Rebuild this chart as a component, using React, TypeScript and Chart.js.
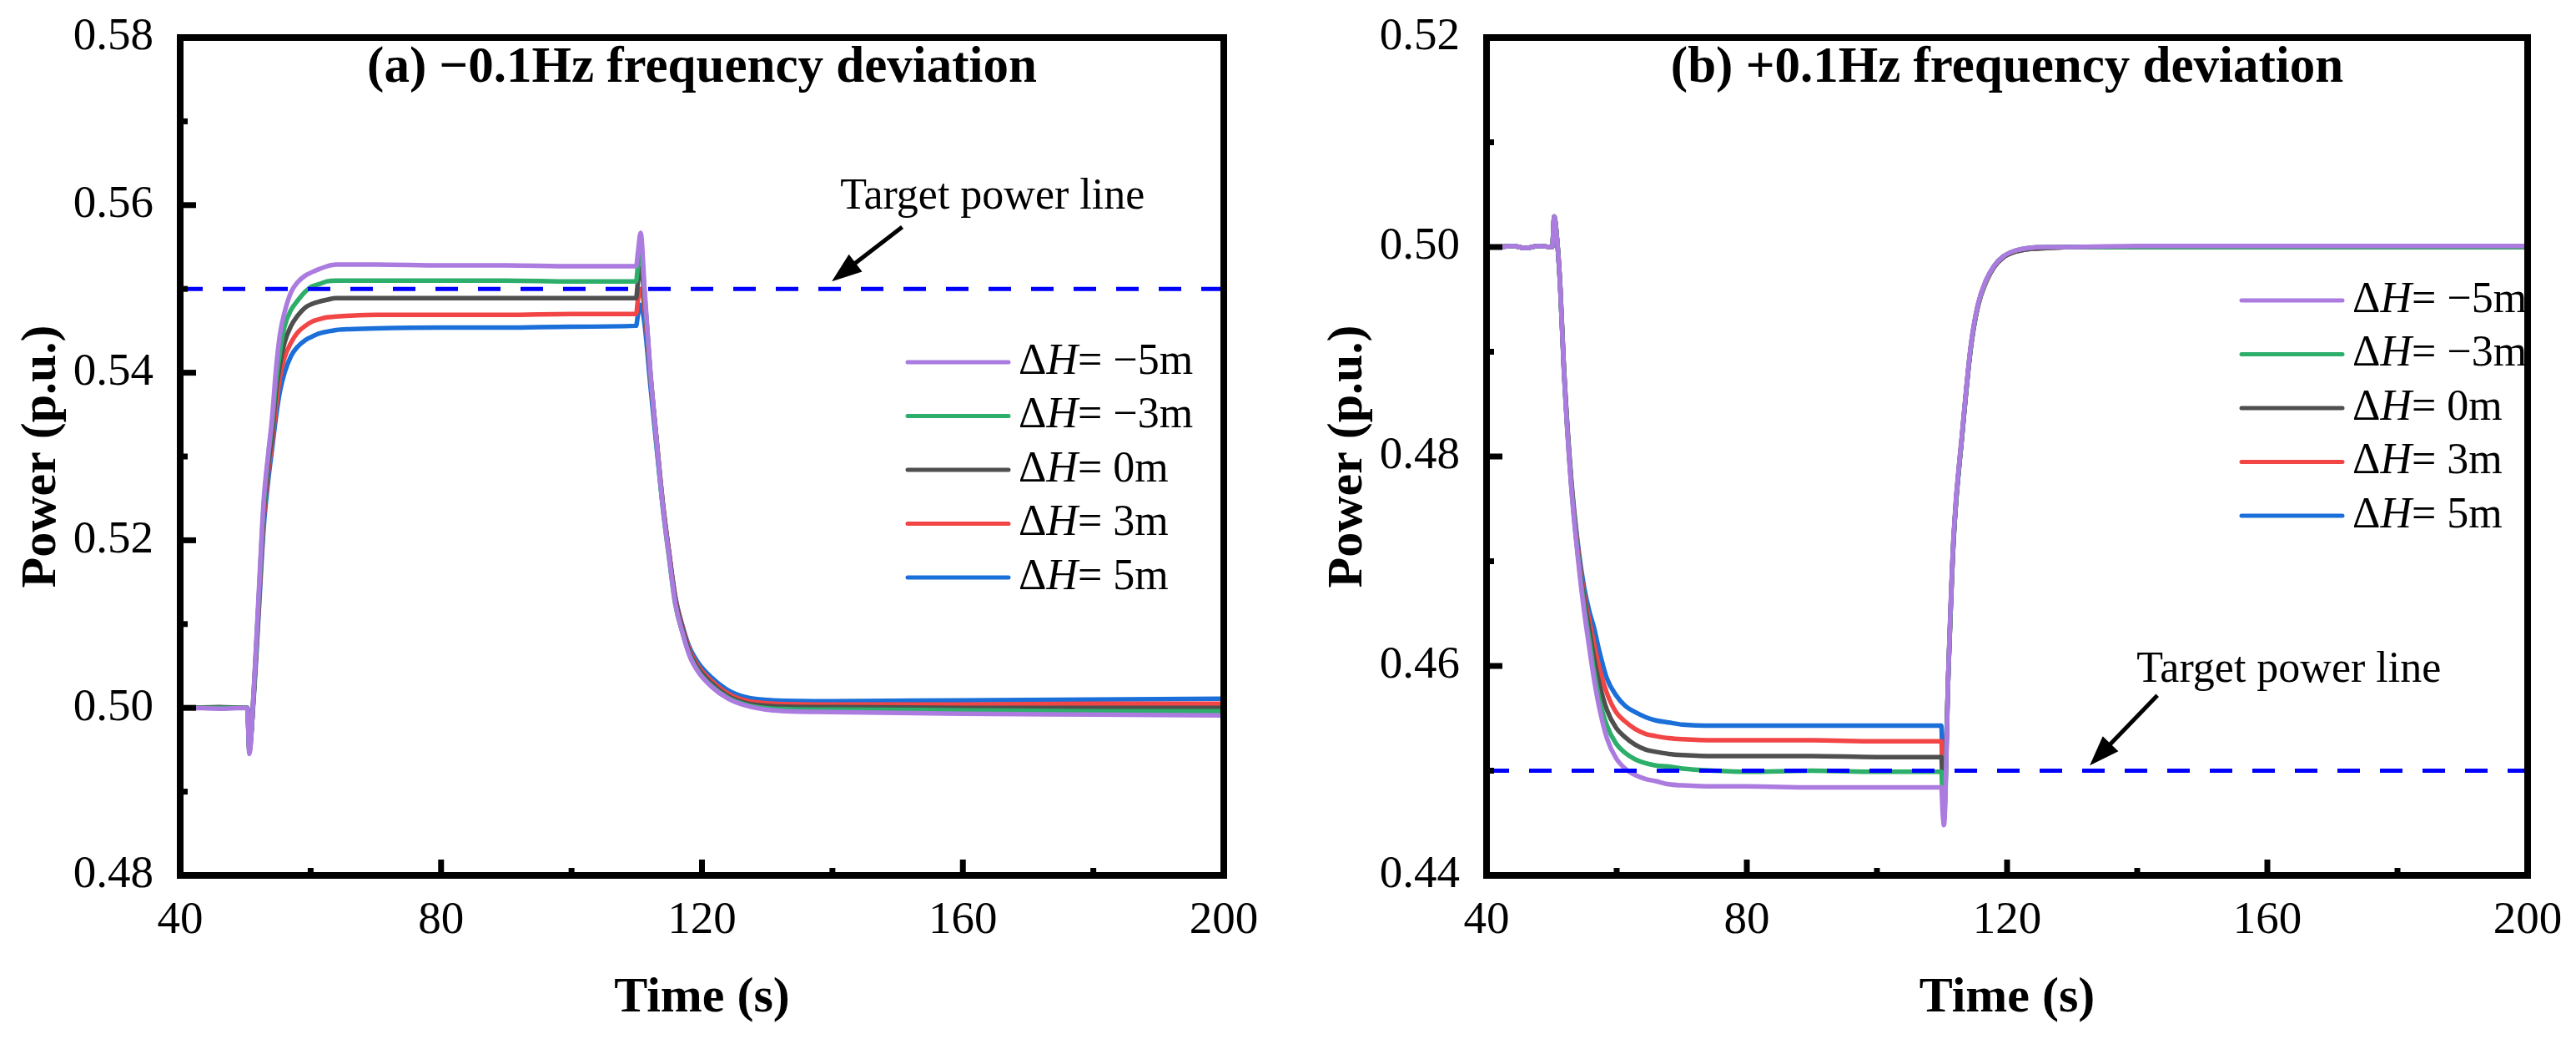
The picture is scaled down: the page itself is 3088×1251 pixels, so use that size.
import React, { useEffect, useRef } from "react";
import { Chart, registerables } from "chart.js";

Chart.register(...registerables);

// ---------- data ----------
const seriesNames = ["−5m", "−3m", "0m", "3m", "5m"];
const seriesColors = ["#AB7BE0", "#2DAF6B", "#4F4F4F", "#F24545", "#1A6FD9"];

const xTicks = [40, 80, 120, 160, 200];
const xMinorTicks = [60, 100, 140, 180];

// (a) −0.1 Hz
const timeA = [42, 46, 50, 50.3, 50.6, 51.3, 52.0, 52.8, 53.5, 54.1, 54.7, 55.3, 56.0, 57.0, 58.0, 59.2, 60.2, 61.4, 62.5, 63.9, 66, 70, 80, 90, 100, 109.9, 110.2, 110.6, 111.2, 112.1, 113.0, 114.0, 115.0, 115.9, 117.0, 118.1, 119.5, 121.5, 124, 126.6, 130.9, 140, 160, 180, 200];
const powerA_m5 = [0.5000, 0.4999, 0.5000, 0.5000, 0.4945, 0.5025, 0.5130, 0.5247, 0.5303, 0.5347, 0.5405, 0.5446, 0.5472, 0.5496, 0.5508, 0.5516, 0.5520, 0.5524, 0.5527, 0.5529, 0.5529, 0.5529, 0.5528, 0.5528, 0.5527, 0.5527, 0.5545, 0.5567, 0.5500, 0.5400, 0.5322, 0.5240, 0.5178, 0.5125, 0.5090, 0.5062, 0.5042, 0.5025, 0.5011, 0.5003, 0.4997, 0.4995, 0.4993, 0.4992, 0.4991];
const powerA_m3 = [0.5000, 0.5000, 0.5000, 0.5000, 0.4948, 0.5022, 0.5125, 0.5240, 0.5300, 0.5340, 0.5390, 0.5425, 0.5455, 0.5475, 0.5486, 0.5497, 0.5503, 0.5506, 0.5509, 0.5510, 0.5510, 0.5510, 0.5510, 0.5510, 0.5509, 0.5509, 0.5530, 0.5548, 0.5495, 0.5398, 0.5320, 0.5238, 0.5176, 0.5124, 0.5090, 0.5063, 0.5043, 0.5026, 0.5012, 0.5004, 0.4999, 0.4998, 0.4997, 0.4996, 0.4996];
const powerA_0 = [0.5000, 0.5001, 0.5000, 0.5000, 0.4950, 0.5020, 0.5120, 0.5233, 0.5290, 0.5328, 0.5378, 0.5410, 0.5436, 0.5456, 0.5468, 0.5478, 0.5482, 0.5485, 0.5487, 0.5489, 0.5489, 0.5489, 0.5489, 0.5489, 0.5489, 0.5489, 0.5510, 0.5525, 0.5488, 0.5398, 0.5324, 0.5244, 0.5182, 0.5130, 0.5095, 0.5066, 0.5046, 0.5029, 0.5014, 0.5006, 0.5002, 0.5001, 0.5000, 0.5000, 0.5000];
const powerA_p3 = [0.5000, 0.5000, 0.5000, 0.5000, 0.4952, 0.5018, 0.5115, 0.5225, 0.5282, 0.5318, 0.5360, 0.5395, 0.5418, 0.5436, 0.5448, 0.5456, 0.5461, 0.5464, 0.5466, 0.5467, 0.5468, 0.5469, 0.5469, 0.5469, 0.5470, 0.5470, 0.5488, 0.5500, 0.5476, 0.5394, 0.5322, 0.5244, 0.5183, 0.5132, 0.5097, 0.5069, 0.5049, 0.5032, 0.5017, 0.5009, 0.5005, 0.5004, 0.5004, 0.5005, 0.5005];
const powerA_p5 = [0.5000, 0.5000, 0.5000, 0.5000, 0.4955, 0.5015, 0.5108, 0.5215, 0.5272, 0.5310, 0.5348, 0.5378, 0.5400, 0.5420, 0.5431, 0.5439, 0.5443, 0.5447, 0.5449, 0.5451, 0.5452, 0.5453, 0.5454, 0.5454, 0.5455, 0.5456, 0.5470, 0.5481, 0.5458, 0.5384, 0.5314, 0.5240, 0.5182, 0.5133, 0.5098, 0.5072, 0.5053, 0.5036, 0.5021, 0.5013, 0.5009, 0.5008, 0.5009, 0.5010, 0.5011];
const yTicksA = [0.48, 0.5, 0.52, 0.54, 0.56, 0.58];
const yMinorA = [0.49, 0.51, 0.53, 0.55, 0.57];
const targetA = 0.55;
const arrowA = { fromT: 150.7, fromP: 0.5574, toT: 139.9, toP: 0.5509 };
const labelA = { t: 141.2, p: 0.5596 };

// (b) +0.1 Hz
const timeB = [42, 44, 46, 48, 50.1, 50.4, 50.8, 51.3, 51.9, 53.0, 54.2, 55.0, 55.8, 56.5, 57.3, 58.5, 59.9, 61.3, 62.8, 64.5, 66, 68, 70.1, 75, 80, 90, 100, 109.9, 110.1, 110.3, 111.0, 111.8, 113.1, 114.4, 115.5, 116.8, 118.0, 119.4, 121, 123.2, 126, 130, 140, 160, 180, 200];
const powerB_m5 = [0.5000, 0.5001, 0.4999, 0.5001, 0.5000, 0.5029, 0.5010, 0.4965, 0.4880, 0.4772, 0.4694, 0.4652, 0.4617, 0.4588, 0.4561, 0.4531, 0.4512, 0.4502, 0.4496, 0.4492, 0.4490, 0.4487, 0.4486, 0.4485, 0.4485, 0.4484, 0.4484, 0.4484, 0.4460, 0.4448, 0.4600, 0.4727, 0.4823, 0.4905, 0.4945, 0.4969, 0.4982, 0.4991, 0.4996, 0.4999, 0.5000, 0.5000, 0.5001, 0.5001, 0.5001, 0.5001];
const powerB_m3 = [0.5000, 0.5001, 0.4999, 0.5001, 0.5000, 0.5029, 0.5010, 0.4965, 0.4881, 0.4774, 0.4697, 0.4657, 0.4625, 0.4596, 0.4569, 0.4543, 0.4526, 0.4517, 0.4511, 0.4507, 0.4505, 0.4504, 0.4502, 0.4500, 0.4499, 0.4500, 0.4499, 0.4499, 0.4475, 0.4455, 0.4598, 0.4725, 0.4822, 0.4904, 0.4944, 0.4968, 0.4982, 0.4991, 0.4996, 0.4999, 0.5000, 0.5000, 0.5000, 0.5000, 0.5000, 0.5000];
const powerB_0 = [0.5000, 0.5001, 0.4999, 0.5001, 0.5000, 0.5029, 0.5010, 0.4965, 0.4882, 0.4776, 0.4700, 0.4663, 0.4634, 0.4608, 0.4584, 0.4558, 0.4541, 0.4532, 0.4525, 0.4520, 0.4518, 0.4516, 0.4515, 0.4514, 0.4514, 0.4514, 0.4513, 0.4513, 0.4485, 0.4462, 0.4598, 0.4724, 0.4821, 0.4903, 0.4944, 0.4968, 0.4981, 0.4990, 0.4995, 0.4998, 0.4999, 0.5000, 0.5000, 0.5000, 0.5000, 0.5000];
const powerB_p3 = [0.5000, 0.5001, 0.4999, 0.5001, 0.5000, 0.5029, 0.5010, 0.4966, 0.4883, 0.4778, 0.4704, 0.4668, 0.4643, 0.4622, 0.4599, 0.4574, 0.4556, 0.4547, 0.4540, 0.4535, 0.4533, 0.4531, 0.4530, 0.4529, 0.4529, 0.4529, 0.4528, 0.4528, 0.4495, 0.4470, 0.4598, 0.4723, 0.4821, 0.4903, 0.4943, 0.4967, 0.4981, 0.4990, 0.4995, 0.4998, 0.4999, 0.5000, 0.5000, 0.5000, 0.5000, 0.5000];
const powerB_p5 = [0.5000, 0.5001, 0.4999, 0.5001, 0.5000, 0.5029, 0.5010, 0.4966, 0.4884, 0.4780, 0.4708, 0.4675, 0.4652, 0.4637, 0.4615, 0.4588, 0.4572, 0.4562, 0.4556, 0.4551, 0.4548, 0.4546, 0.4544, 0.4543, 0.4543, 0.4543, 0.4543, 0.4543, 0.4505, 0.4478, 0.4598, 0.4722, 0.4820, 0.4902, 0.4943, 0.4967, 0.4981, 0.4990, 0.4995, 0.4998, 0.4999, 0.5000, 0.5000, 0.5000, 0.5000, 0.5000];
const yTicksB = [0.44, 0.46, 0.48, 0.5, 0.52];
const yMinorB = [0.45, 0.47, 0.49, 0.51];
const targetB = 0.45;
const arrowB = { fromT: 143.1, fromP: 0.4572, toT: 132.7, toP: 0.4505 };
const labelB = { t: 139.9, p: 0.4585 };

// ---------- styling ----------
const FONT = '"Liberation Serif", "Times New Roman", serif';
const W = 1544;
const H = 1251;

type PanelCfg = {
  title: string;
  time: number[];
  series: number[][];
  yMin: number;
  yMax: number;
  yTicks: number[];
  yMinor: number[];
  target: number;
  arrow: { fromT: number; fromP: number; toT: number; toP: number };
  label: { t: number; p: number };
  yAxisWidth: number;
  padRight: number;
  legendX: number;
  legendY: number;
};

const panels: PanelCfg[] = [
  {
    title: "(a) −0.1Hz frequency deviation",
    time: timeA,
    series: [powerA_m5, powerA_m3, powerA_0, powerA_p3, powerA_p5],
    yMin: 0.48,
    yMax: 0.58,
    yTicks: yTicksA,
    yMinor: yMinorA,
    target: targetA,
    arrow: arrowA,
    label: labelA,
    yAxisWidth: 216,
    padRight: 77,
    legendX: 872,
    legendY: 389,
  },
  {
    title: "(b) +0.1Hz frequency deviation",
    time: timeB,
    series: [powerB_m5, powerB_m3, powerB_0, powerB_p3, powerB_p5],
    yMin: 0.44,
    yMax: 0.52,
    yTicks: yTicksB,
    yMinor: yMinorB,
    target: targetB,
    arrow: arrowB,
    label: labelB,
    yAxisWidth: 238,
    padRight: 58,
    legendX: 905,
    legendY: 315,
  },
];

function makeDecor(cfg: PanelCfg) {
  return {
    id: "decor",
    afterDraw(chart: any) {
      const { ctx, chartArea: ca, scales } = chart;
      const xs = scales.x;
      const ys = scales.y;
      ctx.save();
      ctx.fillStyle = "#000";
      // tick marks (inside)
      for (const v of cfg.yTicks) {
        const py = ys.getPixelForValue(v);
        ctx.fillRect(ca.left, py - 3.5, 19, 7);
      }
      for (const v of cfg.yMinor) {
        const py = ys.getPixelForValue(v);
        ctx.fillRect(ca.left, py - 3.5, 9, 7);
      }
      for (const v of xTicks) {
        const px = xs.getPixelForValue(v);
        ctx.fillRect(px - 3.5, ca.bottom - 19, 7, 19);
      }
      for (const v of xMinorTicks) {
        const px = xs.getPixelForValue(v);
        ctx.fillRect(px - 3.5, ca.bottom - 9, 7, 9);
      }
      // frame
      ctx.strokeStyle = "#000";
      ctx.lineWidth = 8;
      ctx.strokeRect(ca.left, ca.top, ca.right - ca.left, ca.bottom - ca.top);

      const cx = (ca.left + ca.right) / 2;
      // panel title
      ctx.font = `bold 61px ${FONT}`;
      ctx.textAlign = "center";
      ctx.textBaseline = "alphabetic";
      ctx.fillText(cfg.title, cx, ca.top + 53);
      // x axis title
      ctx.font = `bold 60px ${FONT}`;
      ctx.fillText("Time (s)", cx, ca.bottom + 163);
      // y axis title
      ctx.save();
      ctx.translate(ca.left - 166, (ca.top + ca.bottom) / 2);
      ctx.rotate(-Math.PI / 2);
      ctx.textBaseline = "middle";
      ctx.fillText("Power (p.u.)", 0, 0);
      ctx.restore();

      // legend
      const rowGap = 64.5;
      for (let i = 0; i < seriesNames.length; i++) {
        const y = ca.top + cfg.legendY + i * rowGap;
        const x0 = ca.left + cfg.legendX;
        ctx.strokeStyle = seriesColors[i];
        ctx.lineWidth = 5;
        ctx.lineCap = "round";
        ctx.beginPath();
        ctx.moveTo(x0, y);
        ctx.lineTo(x0 + 121, y);
        ctx.stroke();
        let tx = x0 + 133;
        ctx.fillStyle = "#000";
        ctx.textAlign = "left";
        ctx.textBaseline = "middle";
        ctx.font = `52px ${FONT}`;
        ctx.fillText("Δ", tx, y);
        tx += ctx.measureText("Δ").width;
        ctx.font = `italic 52px ${FONT}`;
        ctx.fillText("H", tx, y);
        tx += ctx.measureText("H").width;
        ctx.font = `52px ${FONT}`;
        ctx.fillText("= " + seriesNames[i], tx, y);
      }

      // annotation text
      ctx.fillStyle = "#000";
      ctx.font = `52px ${FONT}`;
      ctx.textAlign = "left";
      ctx.textBaseline = "alphabetic";
      ctx.fillText(
        "Target power line",
        xs.getPixelForValue(cfg.label.t),
        ys.getPixelForValue(cfg.label.p)
      );
      // arrow
      const ax1 = xs.getPixelForValue(cfg.arrow.fromT);
      const ay1 = ys.getPixelForValue(cfg.arrow.fromP);
      const ax2 = xs.getPixelForValue(cfg.arrow.toT);
      const ay2 = ys.getPixelForValue(cfg.arrow.toP);
      const ang = Math.atan2(ay2 - ay1, ax2 - ax1);
      const headLen = 36;
      const headHalf = 13;
      const bx = ax2 - headLen * Math.cos(ang);
      const by = ay2 - headLen * Math.sin(ang);
      ctx.strokeStyle = "#000";
      ctx.lineWidth = 5;
      ctx.lineCap = "butt";
      ctx.beginPath();
      ctx.moveTo(ax1, ay1);
      ctx.lineTo(bx + 4 * Math.cos(ang), by + 4 * Math.sin(ang));
      ctx.stroke();
      ctx.beginPath();
      ctx.moveTo(ax2, ay2);
      ctx.lineTo(bx + headHalf * Math.sin(ang), by - headHalf * Math.cos(ang));
      ctx.lineTo(bx - headHalf * Math.sin(ang), by + headHalf * Math.cos(ang));
      ctx.closePath();
      ctx.fill();
      ctx.restore();
    },
  };
}

function Panel({ cfg }: { cfg: PanelCfg }) {
  const ref = useRef<HTMLCanvasElement | null>(null);
  useEffect(() => {
    if (!ref.current) return;
    const lineSets = cfg.series.map((vals, i) => ({
      label: "ΔH= " + seriesNames[i],
      data: cfg.time.map((t, j) => ({ x: t, y: vals[j] })),
      borderColor: seriesColors[i],
      backgroundColor: seriesColors[i],
      borderWidth: 5.5,
      pointRadius: 0,
      cubicInterpolationMode: "monotone" as const,
      borderJoinStyle: "round" as const,
      borderCapStyle: "round" as const,
      order: i + 1,
    }));
    const targetSet = {
      label: "Target power line",
      data: [
        { x: 40, y: cfg.target },
        { x: 200, y: cfg.target },
      ],
      borderColor: "#0000FF",
      backgroundColor: "#0000FF",
      borderWidth: 5,
      borderDash: [27, 24],
      pointRadius: 0,
      order: 0,
    };
    const chart = new Chart(ref.current, {
      type: "line",
      data: { datasets: [targetSet, ...lineSets] as any },
      options: {
        animation: false,
        responsive: false,
        maintainAspectRatio: false,
        parsing: false as any,
        layout: { padding: { top: 45, right: cfg.padRight, left: 0, bottom: 0 } },
        plugins: { legend: { display: false }, tooltip: { enabled: false }, title: { display: false } },
        scales: {
          x: {
            type: "linear",
            min: 40,
            max: 200,
            grid: { display: false },
            border: { display: false },
            afterBuildTicks: (s: any) => {
              s.ticks = xTicks.map((v) => ({ value: v }));
            },
            afterFit: (s: any) => {
              s.height = 202;
              s.paddingLeft = 0;
              s.paddingRight = 0;
            },
            ticks: {
              color: "#000",
              font: { family: FONT, size: 55 },
              padding: 14,
              maxRotation: 0,
              autoSkip: false,
              callback: (v: any) => String(v),
            },
          },
          y: {
            type: "linear",
            min: cfg.yMin,
            max: cfg.yMax,
            grid: { display: false },
            border: { display: false },
            afterBuildTicks: (s: any) => {
              s.ticks = cfg.yTicks.map((v) => ({ value: v }));
            },
            afterFit: (s: any) => {
              s.width = cfg.yAxisWidth;
              s.paddingTop = 0;
              s.paddingBottom = 0;
            },
            ticks: {
              color: "#000",
              font: { family: FONT, size: 55 },
              padding: 24,
              autoSkip: false,
              callback: (v: any) => Number(v).toFixed(2),
            },
          },
        },
      },
      plugins: [makeDecor(cfg)],
    });
    let alive = true;
    const fontsToLoad = [
      `55px "Liberation Serif"`,
      `52px "Liberation Serif"`,
      `italic 52px "Liberation Serif"`,
      `bold 60px "Liberation Serif"`,
    ];
    if ((document as any).fonts && (document as any).fonts.load) {
      Promise.all(fontsToLoad.map((f) => (document as any).fonts.load(f, "0.58ΔH−")))
        .then(() => {
          if (alive) chart.update("none");
        })
        .catch(() => {});
    }
    return () => {
      alive = false;
      chart.destroy();
    };
  }, [cfg]);
  return (
    <canvas
      ref={ref}
      width={W}
      height={H}
      style={{ width: W, height: H, display: "block" }}
    />
  );
}

export default function App() {
  useEffect(() => {
    document.body.style.margin = "0";
    document.body.style.background = "#fff";
  }, []);
  return (
    <div
      style={{
        position: "absolute",
        left: 0,
        top: 0,
        width: W * 2,
        height: H,
        display: "flex",
        background: "#fff",
      }}
    >
      <Panel cfg={panels[0]} />
      <Panel cfg={panels[1]} />
    </div>
  );
}
